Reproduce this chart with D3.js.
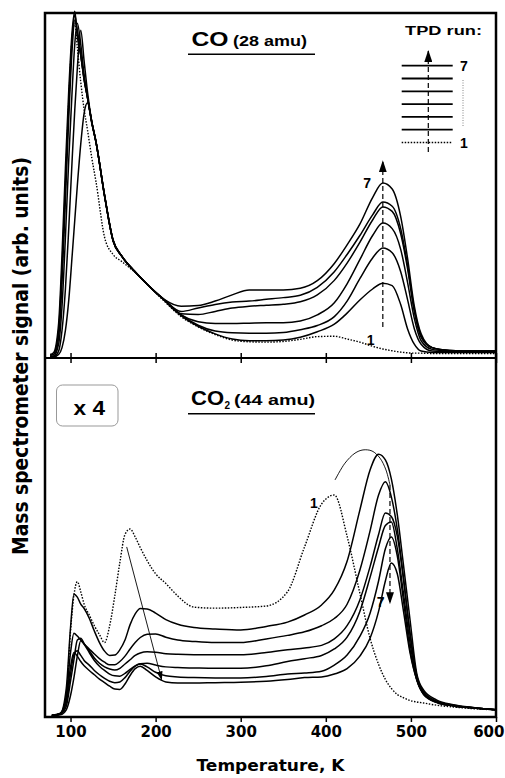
<!DOCTYPE html>
<html>
<head>
<meta charset="utf-8">
<script src="https://cdn.jsdelivr.net/npm/d3@7"></script>
<style>
  body { margin: 0; background: #fff; }
  svg { display: block; }
  .tick text { font-family: "DejaVu Sans", sans-serif; font-weight: bold; font-size: 15px; }
</style>
</head>
<body>
<svg width="505" height="778"></svg>
<script>
// CO (28 amu) desorption, temperature grid in K, signal in arb. units (0-100 = panel height)
const tempTop = [76, 80, 86, 90, 94, 98, 102, 105, 108, 112, 116, 120, 125, 130, 140, 150, 160, 175, 190, 210,
  230, 250, 270, 290, 310, 330, 350, 370, 390, 410, 425, 440, 455, 467, 478, 488, 496, 504, 512, 525, 545, 575, 600];
const coRun1 = [0.5, 1, 8, 25, 50, 75, 93, 97, 90, 80, 72, 66, 58, 51, 35, 30, 28, 25, 21.4, 16.5,
  12, 9, 6.8, 5.2, 4.7, 4.6, 4.8, 5.4, 6.2, 6.3, 5.5, 4.6, 3.4, 2.6, 2.1, 1.7, 1.5, 1.4, 1.4, 1.3, 1.3, 1.3, 1.3];
const coRun2 = [0.3, 0.3, 1, 3, 8, 17, 30, 40, 50, 62, 71, 74, 68, 62.5, 47, 34, 29.6, 25.2, 21.4, 16.8,
  12.3, 9.2, 7, 5.5, 5, 5, 5.2, 6, 7.6, 9.8, 13, 16.8, 20, 21.7, 21, 15.5, 8.5, 4, 2, 1.6, 1.6, 1.6, 1.6];
const coRun3 = [0.3, 0.3, 2, 8, 20, 38, 58, 72, 84, 95, 86, 77, 68.4, 62.5, 47, 34, 29.6, 25.2, 21.4, 16.8,
  12.5, 9.5, 7.8, 7.3, 7.2, 7.2, 7.4, 8.2, 9.4, 12, 16.5, 23, 29, 31.9, 30.5, 25, 17, 8.5, 4, 2, 1.8, 1.8, 1.8];
const coRun4 = [0.4, 0.5, 4, 15, 35, 58, 78, 91, 97, 91, 82, 75.4, 68.4, 62.5, 47, 34, 29.6, 25.2, 21.4, 16.8,
  12.5, 10.5, 10, 10, 10.1, 10.2, 10.2, 10.7, 12.5, 16, 21.5, 28.5, 35.5, 39.1, 37.5, 31.5, 22, 11.5, 5, 2.5, 2, 1.8, 1.8];
const coRun5 = [0.5, 0.5, 6, 22, 46, 70, 90, 98, 95, 88, 81, 75.4, 68.4, 62.5, 47, 34, 29.6, 25.2, 21.4, 16.8,
  12.8, 12.6, 13.5, 14.5, 15, 15.3, 15.6, 16.3, 18.3, 22.5, 27.5, 33.5, 40, 43.8, 42.5, 36, 26, 13.5, 6, 3, 2.2, 2, 2];
const coRun6 = [0.8, 1, 8, 26, 50, 74, 93, 99.5, 94, 87.8, 80.6, 75.4, 68.4, 62.5, 47.2, 34.2, 29.6, 25.2, 21.4, 17,
  13.5, 14.5, 15.5, 16.2, 16.5, 17, 17.5, 18.2, 20.5, 25, 30, 35.5, 41.5, 45.2, 44, 37.5, 27, 14, 6.5, 3, 2.2, 2, 2];
const coRun7 = [1, 1.5, 10, 30, 55, 78, 95, 100.5, 93.3, 87.8, 80.6, 75.4, 68.4, 62.6, 47.2, 34.2, 29.6, 25.2, 21.4, 17,
  15, 15.2, 16.5, 18.3, 19.7, 19.7, 19.7, 20.2, 22.4, 27.4, 32.8, 38.8, 46.5, 50.7, 49, 41, 29, 15, 7, 3, 2.2, 2, 2];

// CO2 (44 amu) desorption (x 4)
const tempBottom = [78, 88, 95, 100, 104, 108, 112, 116, 122, 128, 134, 140, 146, 152, 158, 164, 170, 176, 182, 190,
  200, 212, 226, 245, 270, 300, 330, 355, 375, 395, 410, 425, 440, 452, 462, 470, 477, 484, 491, 499, 507, 515, 530, 550, 575, 600];
const co2Run1 = [0.5, 1, 6, 24, 34, 37.8, 35, 31.5, 28.5, 25.5, 23, 20.8, 25.5, 33.8, 43.2, 51, 52.5, 50.3, 47.3, 43.7,
  40, 37.3, 33.8, 30.7, 30.4, 30.6, 31, 35, 47.5, 59.5, 62, 50.5, 34.6, 22, 14.7, 10.5, 8, 6.3, 5.4, 4.6, 4.2, 3.9, 3.3, 2.8, 2.3, 2];
const co2Run2 = [0.5, 1, 8, 25, 34.3, 33.5, 31.5, 30.3, 27.6, 24, 20.8, 18.4, 17.2, 17.3, 18.8, 21.5, 25.8, 28.8, 30.3, 30.2,
  29, 27.2, 25.9, 25, 24.6, 24.3, 25.3, 26.5, 28.5, 31.3, 35.5, 43.5, 57.8, 69, 73.4, 71.8, 66.5, 56.5, 43, 27.1, 12, 7.5, 4.8, 3.4, 2.6, 2];
const co2Run3 = [0.5, 1, 6, 18, 23.4, 22.6, 21.5, 20.4, 19, 17.6, 16.3, 15.3, 14.6, 14.6, 15.5, 17, 19, 20.8, 22.2, 23.1,
  23.2, 22.3, 21.5, 21.1, 20.8, 20.8, 21.8, 22.8, 23.8, 25.5, 27.5, 31.5, 41, 52, 62, 65.7, 61.5, 52.5, 39.5, 23, 11.5, 7, 4.5, 3.3, 2.5, 2];
const co2Run4 = [0.4, 0.8, 3, 10, 16, 21.5, 22, 20.5, 18.5, 16.5, 15, 14, 13.4, 13.1, 13.6, 14.8, 16, 17.2, 17.9, 18.2,
  18.1, 17.7, 17.5, 17.4, 17.4, 17.4, 18, 18.8, 19.3, 20, 21.8, 25.5, 32.7, 42, 51, 57, 56, 50.5, 39, 23.5, 11.2, 6.8, 4.3, 3.2, 2.5, 2];
const co2Run5 = [0.3, 0.6, 2, 6, 11, 17, 21.3, 20.3, 18, 15.8, 14.2, 13, 12, 11.5, 11.4, 12.2, 13.3, 14.3, 14.9, 15,
  14.5, 14, 13.8, 13.7, 13.6, 13.6, 14.3, 15.5, 16.3, 17.2, 19, 22.3, 29.5, 39, 47.5, 53.5, 54.5, 47, 35, 20.7, 10.3, 6.5, 4.2, 3.1, 2.5, 2];
const co2Run6 = [0.3, 1, 4, 12, 17.5, 18.5, 17.2, 15.8, 14.5, 13, 11.8, 10.8, 10, 9.6, 9.8, 11, 12.8, 14.2, 14.8, 14,
  12.5, 11.5, 11.2, 11, 10.9, 10.9, 11.3, 12, 12.3, 12.8, 14.5, 17.3, 22.5, 29, 38, 47, 50.3, 45, 33, 18.7, 10.3, 6.3, 4.1, 3.1, 2.5, 2];
const co2Run7 = [0.3, 1, 5, 14, 18, 17, 15.5, 14.3, 13, 11.8, 10.6, 9.6, 8.6, 7.8, 7.7, 9.2, 11.6, 13.5, 14.2, 13,
  11.2, 9.8, 9.5, 9.5, 9.6, 9.7, 10, 10.5, 11, 11.2, 12, 13.5, 17, 22, 29.5, 38, 43, 40, 30, 17.9, 10.3, 6.3, 4.1, 3.1, 2.5, 2];

const xTicks = [100, 200, 300, 400, 500, 600];
const runNames = ['1', '2', '3', '4', '5', '6', '7'];

// annotation paths, [temperature, signal]
const coArrow = [[467, 9], [467, 57]];
const co2Arrow = [[475.4, 64.8], [475.4, 31.8]];
const co2Arc = [[410.8, 66.2], [422.5, 70.9], [434.3, 73.7], [443.7, 74.6], [454.3, 74.3], [463.7, 72.3], [470.7, 69], [475.4, 64.8]];
const co2LowArrow = [[166, 47.5], [207, 10.5]];

const svg = d3.select('svg');
const x = d3.scaleLinear().domain([70, 600]).range([45, 496]);
const yTop = d3.scaleLinear().domain([0, 100]).range([358, 13]);
const yBot = d3.scaleLinear().domain([0, 100]).range([717, 359]);

const defs = svg.append('defs');
defs.append('marker').attr('id', 'head').attr('viewBox', '0 -4 12 8')
  .attr('refX', 11).attr('refY', 0).attr('markerWidth', 12).attr('markerHeight', 8)
  .attr('markerUnits', 'userSpaceOnUse').attr('orient', 'auto')
  .append('path').attr('d', 'M0,-4L12,0L0,4Z').attr('fill', '#000');
defs.append('marker').attr('id', 'headSmall').attr('viewBox', '0 -3 9 6')
  .attr('refX', 8).attr('refY', 0).attr('markerWidth', 9).attr('markerHeight', 6)
  .attr('markerUnits', 'userSpaceOnUse').attr('orient', 'auto')
  .append('path').attr('d', 'M0,-3L9,0L0,3Z').attr('fill', '#000');

function drawRuns(temps, runs, y) {
  const line = d3.line().x((d, i) => x(temps[i])).y(d => y(d)).curve(d3.curveMonotoneX);
  svg.append('g').selectAll('path')
    .data(runs)
    .join('path')
    .attr('d', d => line(d))
    .attr('fill', 'none')
    .attr('stroke', '#000')
    .attr('stroke-width', (d, i) => i === 0 ? 1.4 : 1.5)
    .attr('stroke-dasharray', (d, i) => i === 0 ? '1.5,1.5' : null);
}
drawRuns(tempTop, [coRun1, coRun2, coRun3, coRun4, coRun5, coRun6, coRun7], yTop);
drawRuns(tempBottom, [co2Run1, co2Run2, co2Run3, co2Run4, co2Run5, co2Run6, co2Run7], yBot);

// annotations
const pt = (y) => d3.line().x(d => x(d[0])).y(d => y(d[1]));
svg.append('path').attr('d', pt(yTop)(coArrow)).attr('stroke', '#000').attr('stroke-width', 1.2)
  .attr('stroke-dasharray', '5,3').attr('fill', 'none').attr('marker-end', 'url(#head)');
svg.append('path').attr('d', pt(yBot)(co2Arrow)).attr('stroke', '#000').attr('stroke-width', 1.2)
  .attr('stroke-dasharray', '5,3').attr('fill', 'none').attr('marker-end', 'url(#head)');
svg.append('path').attr('d', pt(yBot).curve(d3.curveCatmullRom)(co2Arc)).attr('stroke', '#000')
  .attr('stroke-width', 0.9).attr('fill', 'none');
svg.append('path').attr('d', pt(yBot)(co2LowArrow)).attr('stroke', '#000').attr('stroke-width', 0.9)
  .attr('fill', 'none').attr('marker-end', 'url(#headSmall)');

const label = (t, T, v, y, size) => svg.append('text').attr('x', x(T)).attr('y', y(v)).text(t)
  .attr('font-family', '"Liberation Sans", Arial, sans-serif').attr('font-weight', 'bold').attr('font-size', size);
label('7', 444, 49.3, yTop, 14);
label('1', 448, 3.8, yTop, 14);
label('1', 381.4, 58.4, yBot, 14);
label('7', 460, 30.7, yBot, 14);

// frame, divider and axes
svg.append('rect').attr('x', 45).attr('y', 13).attr('width', 451).attr('height', 704)
  .attr('fill', 'none').attr('stroke', '#000').attr('stroke-width', 2.5);
svg.append('line').attr('x1', 45).attr('x2', 496).attr('y1', 358).attr('y2', 358)
  .attr('stroke', '#000').attr('stroke-width', 2.2);

const axisMid = svg.append('g').attr('transform', 'translate(0,358)')
  .call(d3.axisBottom(x).tickValues(xTicks).tickSize(-5).tickFormat(''));
const axisMid2 = svg.append('g').attr('transform', 'translate(0,358)')
  .call(d3.axisTop(x).tickValues(xTicks).tickSize(-5).tickFormat(''));
const axisB = svg.append('g').attr('transform', 'translate(0,717)')
  .call(d3.axisBottom(x).tickValues(xTicks).tickSize(5).tickPadding(4.5));
[axisMid, axisMid2, axisB].forEach(a => {
  a.select('.domain').remove();
  a.selectAll('.tick line').attr('stroke-width', 1.5);
});
axisB.selectAll('.tick text').attr('fill', '#000');
// last label sits against the page edge, as in the reference
axisB.selectAll('.tick text').filter(d => d === 600).attr('text-anchor', 'end').attr('x', 8);

svg.append('text').attr('x', 270.5).attr('y', 770.5).attr('text-anchor', 'middle')
  .attr('font-family', '"DejaVu Sans", sans-serif').attr('font-weight', 'bold').attr('font-size', 15.5)
  .attr('textLength', 148).attr('lengthAdjust', 'spacingAndGlyphs')
  .text('Temperature, K');
svg.append('text').attr('transform', 'translate(28,356) scale(1.25,1) rotate(-90)')
  .attr('text-anchor', 'middle')
  .attr('font-family', '"DejaVu Sans", sans-serif').attr('font-weight', 'bold').attr('font-size', 17)
  .attr('textLength', 398).attr('lengthAdjust', 'spacingAndGlyphs')
  .text('Mass spectrometer signal (arb. units)');

// panel titles
const title = (x0, base, main, sub, rest, mainLen, restX, restLen) => {
  const g = svg.append('g').attr('font-family', '"Liberation Sans", Arial, sans-serif').attr('font-weight', 'bold');
  g.append('text').attr('x', x0).attr('y', base).attr('font-size', 21)
    .attr('textLength', mainLen).attr('lengthAdjust', 'spacingAndGlyphs').text(main);
  if (sub) g.append('text').attr('x', x0 + mainLen + 0.5).attr('y', base + 4).attr('font-size', 10).text(sub);
  g.append('text').attr('x', restX).attr('y', base).attr('font-size', 14)
    .attr('textLength', restLen).attr('lengthAdjust', 'spacingAndGlyphs').text(rest);
  svg.append('line').attr('x1', 188).attr('x2', 315).attr('y1', base + 8.8).attr('y2', base + 8.8)
    .attr('stroke', '#000').attr('stroke-width', 1.5);
};
title(191.5, 45.5, 'CO', null, '(28 amu)', 37, 233, 74);
title(191, 405, 'CO', '2', '(44 amu)', 33, 234, 81);

// x 4 box
svg.append('rect').attr('x', 56.5).attr('y', 385).attr('width', 61.5).attr('height', 41).attr('rx', 6)
  .attr('fill', 'none').attr('stroke', '#999').attr('stroke-width', 1);
svg.append('text').attr('x', 73.5).attr('y', 415).attr('font-size', 20)
  .attr('font-family', '"Liberation Sans", Arial, sans-serif').attr('font-weight', 'bold')
  .attr('textLength', 31.5).attr('lengthAdjust', 'spacingAndGlyphs').text('x 4');

// legend
const leg = svg.append('g').attr('font-family', '"Liberation Sans", Arial, sans-serif').attr('font-weight', 'bold');
leg.append('text').attr('x', 405).attr('y', 35).attr('font-size', 13)
  .attr('textLength', 77).attr('lengthAdjust', 'spacingAndGlyphs').text('TPD run:');
const legendY = (i) => 65.7 + (6 - i) * 12.8;
leg.selectAll('line.run').data(runNames).join('line').attr('class', 'run')
  .attr('x1', 401.7).attr('x2', 452.7)
  .attr('y1', (d, i) => legendY(i)).attr('y2', (d, i) => legendY(i))
  .attr('stroke', '#000').attr('stroke-width', (d, i) => i === 0 ? 1.4 : 1.8)
  .attr('stroke-dasharray', (d, i) => i === 0 ? '1.5,1.5' : null);
leg.append('line').attr('x1', 428.3).attr('x2', 428.3).attr('y1', 152).attr('y2', 51)
  .attr('stroke', '#000').attr('stroke-width', 1.2).attr('stroke-dasharray', '5,3').attr('marker-end', 'url(#head)');
leg.append('line').attr('x1', 463).attr('x2', 463).attr('y1', 80).attr('y2', 127)
  .attr('stroke', '#666').attr('stroke-width', 0.8).attr('stroke-dasharray', '1,1.5');
leg.append('text').attr('x', 460).attr('y', legendY(6) + 5).attr('font-size', 14).text(runNames[6]);
leg.append('text').attr('x', 460).attr('y', legendY(0) + 5).attr('font-size', 14).text(runNames[0]);
</script>
</body>
</html>
